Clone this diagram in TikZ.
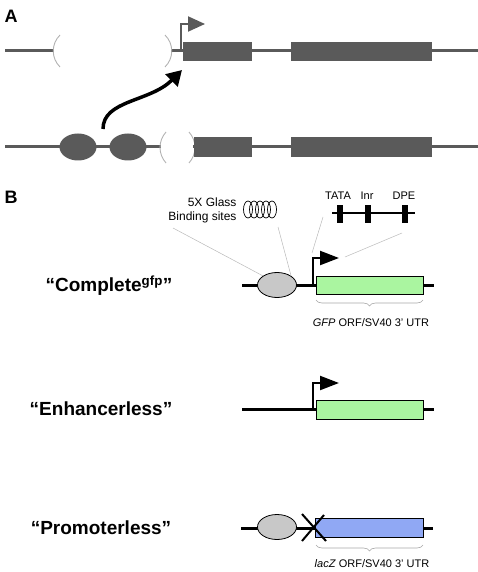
\documentclass[tikz,border=0pt]{standalone}
\usepackage{fontspec}
\setmainfont{Liberation Sans}
\usepackage{xcolor}
\usepackage{tikz}
\usetikzlibrary{positioning}
\usetikzlibrary{decorations.pathreplacing}
\usepgflibrary{arrows.meta,shapes.geometric}
\definecolor{exgray}{HTML}{5A5A5A}
\definecolor{gfpgreen}{HTML}{AAF5A0}
\definecolor{lacblue}{HTML}{90A8F4}
\definecolor{enhgray}{HTML}{C8C8C8}
\tikzset{
  dnaA/.style={exgray,line width=3pt},
  paren/.style={gray!60,line width=0.9pt},
  enhA/.style={ellipse,fill=exgray,minimum width=37pt,minimum height=27pt,inner sep=0pt},
  dnaB/.style={black,line width=3pt},
  enhB/.style={ellipse,draw=black,fill=enhgray,line width=0.8pt,minimum width=39pt,minimum height=25pt,inner sep=0pt},
  leader/.style={gray!55,line width=0.5pt},
  utr/.style={draw=gray!70,line width=0.6pt,decorate,decoration={brace,mirror,amplitude=6pt}},
  panel/.style={font=\fontsize{18}{20}\selectfont\bfseries},
  constr/.style={font=\fontsize{19}{22}\selectfont\bfseries},
  small/.style={font=\fontsize{11}{13}\selectfont},
  glasslab/.style={font=\fontsize{12}{14}\selectfont},
  prom/.style={line width=2.2pt,-{Triangle[length=19pt,width=14pt]}}
}
\begin{document}
\begin{tikzpicture}[x=1pt,y=-1pt]
      \useasboundingbox (0,0) rectangle (478,572);
      \node[panel] (labA) at (11,16) {A};
      \node[panel] (labB) at (11,197) {B};
      % panel A, top
      \draw[dnaA] (5,51) -- (54,51);
      \draw[dnaA] (171,51) -- (478,51);
      \draw[paren] (60,35) .. controls (51,44) and (51,58) .. (60,67);
      \draw[paren] (165,35) .. controls (174,44) and (174,58) .. (165,67);
      \fill[exgray] (183,42) rectangle (252,61);
      \fill[exgray] (291,42) rectangle (432,61);
      \draw[exgray,line width=2pt,-{Triangle[length=17pt,width=15pt]}] (181,51) |- (205,24);
      % panel A, bottom
      \draw[dnaA] (5,147) -- (161,147);
      \draw[dnaA] (193,147) -- (478,147);
      \node[enhA] (enhA1) at (78,147) {};
      \node[enhA] (enhA2) at (128,147) {};
      \draw[paren] (166,132) .. controls (158,141) and (158,154) .. (166,163);
      \draw[paren] (189,132) .. controls (197,141) and (197,154) .. (189,163);
      \fill[exgray] (194,137) rectangle (252,157);
      \fill[exgray] (291,137) rectangle (432,157);
      \coordinate (tss) at (182,70);
      \draw[line width=3.5pt,-{Triangle[length=15pt,width=17pt]}] (103,129) .. controls (103,100) and (150,102) .. (tss);

      % panel B, elements
      \node[glasslab,align=right,anchor=east] (glass) at (240,210) {5X Glass\\Binding sites};
      \foreach \cx in {248,254,...,272}
        \draw[line width=0.7pt] (\cx,209.5) ellipse (4.5pt and 8.5pt);
      \node[small] (tata) at (338,196) {TATA};
      \node[small] (inr) at (367,196) {Inr};
      \node[small] (dpe) at (404,196) {DPE};
      \draw[line width=1.2pt] (332,213) -- (415,213);
      \foreach \bx in {337,365,402}
        \fill (\bx,205) rectangle (\bx+6,223);

      % Complete
      \node[constr] (complete) at (109,286) {“Complete\textsuperscript{gfp}”};
      \draw[dnaB] (242,285) -- (434,285);
      \node[enhB] (enhC) at (277,285) {};
      \draw[fill=gfpgreen,line width=0.8pt] (316,276) rectangle (423,294);
      \draw[prom] (313,285) |- (339,258);
      \draw[utr] (316,300) -- (423,300);
      \node[small] (gfpC) at (371,323) {\textit{GFP} ORF/SV40 3' UTR};
      \coordinate (promC) at (312,253);
      \coordinate (dpeC) at (345,257);
      \draw[leader] (173,228) -- (enhC.north west);
      \draw[leader] (278,227) -- (enhC.north east);
      \draw[leader] (323,217) -- (promC);
      \draw[leader] (402,233) -- (dpeC);

      % Enhancerless
      \node[constr] (enhless) at (101,409) {“Enhancerless”};
      \draw[dnaB] (242,409) -- (434,409);
      \draw[fill=gfpgreen,line width=0.8pt] (316,400) rectangle (423,419);
      \draw[prom] (313,409) |- (339,383);

      % Promoterless
      \node[constr] (promless) at (101,528) {“Promoterless”};
      \draw[dnaB] (241,528) -- (433,528);
      \node[enhB] (enhP) at (277,527) {};
      \draw[fill=lacblue,line width=0.8pt] (315,518) rectangle (423,537);
      \draw[line width=2pt] (302,514) -- (326,541);
      \draw[line width=2pt] (302,541) -- (324,515);
      \draw[utr] (316,545) -- (423,545);
      \node[small] (lacP) at (372,564) {\textit{lacZ} ORF/SV40 3' UTR};
\end{tikzpicture}
\end{document}
